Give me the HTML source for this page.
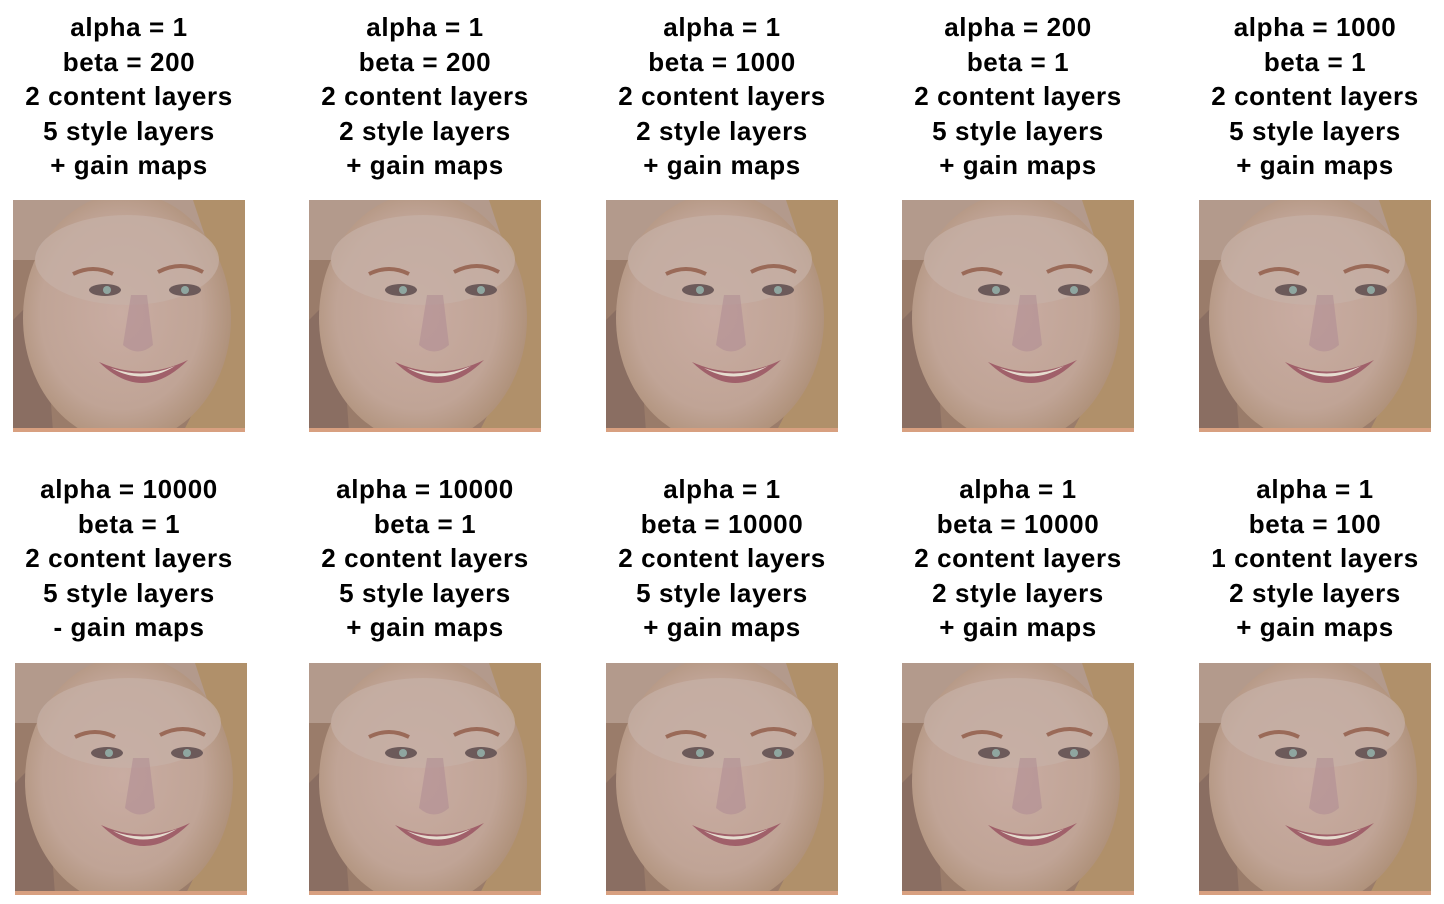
<!DOCTYPE html>
<html><head><meta charset="utf-8">
<style>
body{margin:0;width:1444px;height:904px;background:#fff;position:relative;overflow:hidden;font-family:"Liberation Sans",Arial,sans-serif;}
.t{position:absolute;width:300px;text-align:center;font-weight:bold;font-size:26px;letter-spacing:0.6px;line-height:34.6px;color:#000;}
.img{position:absolute;width:232px;height:232px;}
</style></head><body>
<div id="root"></div>
<script>
const titles=[
["alpha = 1","beta = 200","2 content layers","5 style layers","+ gain maps"],
["alpha = 1","beta = 200","2 content layers","2 style layers","+ gain maps"],
["alpha = 1","beta = 1000","2 content layers","2 style layers","+ gain maps"],
["alpha = 200","beta = 1","2 content layers","5 style layers","+ gain maps"],
["alpha = 1000","beta = 1","2 content layers","5 style layers","+ gain maps"],
["alpha = 10000","beta = 1","2 content layers","5 style layers","- gain maps"],
["alpha = 10000","beta = 1","2 content layers","5 style layers","+ gain maps"],
["alpha = 1","beta = 10000","2 content layers","5 style layers","+ gain maps"],
["alpha = 1","beta = 10000","2 content layers","2 style layers","+ gain maps"],
["alpha = 1","beta = 100","1 content layers","2 style layers","+ gain maps"]];
const imgX=[[13,309,606,902,1199],[15,309,606,902,1199]];
const imgY=[200,663];
const titleY=[10,472];
const centers=[129,425,722,1018,1315];
const face=`<defs>
<radialGradient id="fg" cx="0.47" cy="0.48" r="0.55"><stop offset="0" stop-color="#c9aca2"/><stop offset="0.7" stop-color="#c0a496"/><stop offset="1" stop-color="#ae9078"/></radialGradient>
</defs>
<rect width="232" height="232" fill="#9a7c6a"/>
<rect x="0" y="0" width="232" height="60" fill="#b39a8c"/>
<path d="M180 0 L232 0 L232 232 L170 232 Q215 150 200 60 Z" fill="#b0906a"/>
<path d="M0 120 L30 90 L40 232 L0 232 Z" fill="#8a6e62"/>
<ellipse cx="114" cy="118" rx="104" ry="125" fill="url(#fg)"/>
<ellipse cx="114" cy="60" rx="92" ry="45" fill="#c6b0a6" opacity="0.7"/>
<path d="M60 74 Q80 64 100 74" stroke="#9a6a58" stroke-width="4" fill="none"/>
<path d="M145 72 Q168 60 190 72" stroke="#9a6a58" stroke-width="4" fill="none"/>
<ellipse cx="92" cy="90" rx="16" ry="6" fill="#6c5a5a"/><circle cx="94" cy="90" r="4" fill="#8fa6a0"/>
<ellipse cx="172" cy="90" rx="16" ry="6" fill="#6c5a5a"/><circle cx="172" cy="90" r="4" fill="#8fa6a0"/>
<path d="M118 95 L110 145 Q125 158 140 145 L134 95" fill="#b08d95" opacity="0.6"/>
<path d="M86 162 Q130 205 175 160 Q130 182 86 162 Z" fill="#a0606a"/>
<path d="M98 168 Q130 186 162 166 Q130 180 98 168 Z" fill="#e6ddd0"/>
<rect x="0" y="228" width="232" height="4" fill="#d8a080"/>`;
const root=document.getElementById('root');
for(let i=0;i<10;i++){
  const r=Math.floor(i/5),c=i%5;
  const t=document.createElement('div');
  t.className='t';
  t.style.left=(centers[c]-150)+'px';
  t.style.top=titleY[r]+'px';
  t.innerHTML=titles[i].join('<br>');
  
  
  root.appendChild(t);
  const d=document.createElement('div');
  d.className='img';
  d.style.left=imgX[r][c]+'px';
  d.style.top=imgY[r]+'px';
  d.innerHTML='<svg width="232" height="232" viewBox="0 0 232 232">'+face.replace(/id="fg"/,'id="fg'+i+'"').replace('url(#fg)','url(#fg'+i+')')+'</svg>';
  
  
  root.appendChild(d);
}
</script>
</body></html>
